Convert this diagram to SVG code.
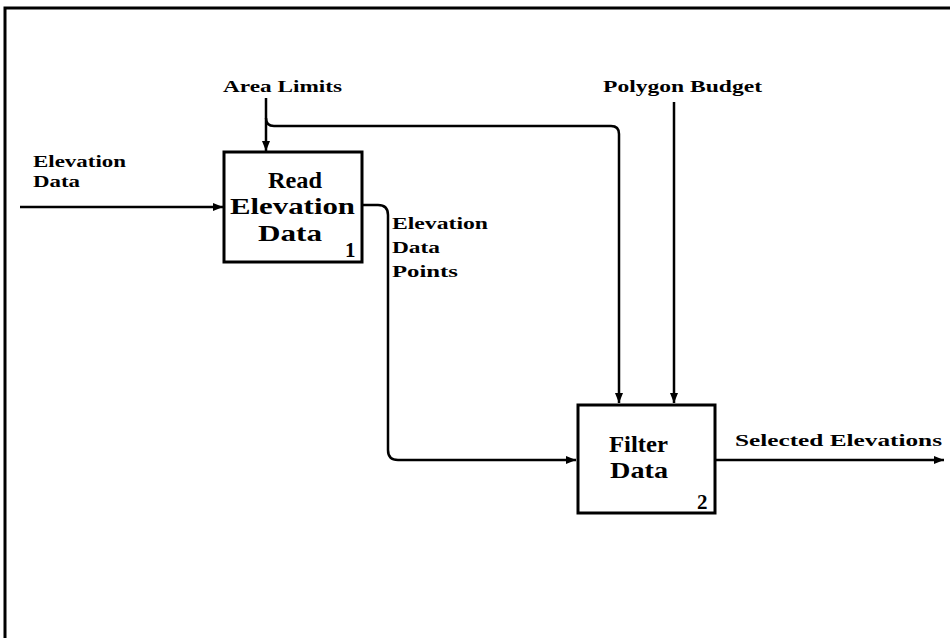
<svg xmlns="http://www.w3.org/2000/svg" width="950" height="638" viewBox="0 0 950 638">
<style>
.lbl{font-family:"Liberation Serif","DejaVu Serif",serif;font-weight:bold;font-size:17px;fill:#000}
.box{font-family:"Liberation Serif","DejaVu Serif",serif;font-size:24px;fill:#000;font-weight:bold}
.num{font-family:"Liberation Serif","DejaVu Serif",serif;font-size:21px;font-weight:bold;fill:#000}
.ln{fill:none;stroke:#000;stroke-width:2.5}
.bx{fill:#fff;stroke:#000;stroke-width:3}
</style>
<defs>
<marker id="ah" viewBox="0 0 10 10" refX="10" refY="5" markerWidth="4" markerHeight="4" orient="auto" markerUnits="strokeWidth">
<path d="M0,1 L10,5 L0,9 z" fill="#000"/>
</marker>
</defs>
<rect width="950" height="638" fill="#fff"/>
<g id="frame">
<path d="M5,638 V8 H950" fill="none" stroke="#000" stroke-width="3"/>
</g>
<g id="connectors">
<path class="ln" d="M266,98 V151" marker-end="url(#ah)"/>
<path class="ln" d="M266,118 Q266,126 274,126 H611 Q619,126 619,134 V403" marker-end="url(#ah)"/>
<path class="ln" d="M674,102 V403" marker-end="url(#ah)"/>
<path class="ln" d="M20,207 H223" marker-end="url(#ah)"/>
<path class="ln" d="M363,205 H378 Q388,205 388,215 V450 Q388,460 398,460 H576" marker-end="url(#ah)"/>
<path class="ln" d="M716,460 H944" marker-end="url(#ah)"/>
</g>
<g id="labels">
<text class="lbl" x="223" y="92" textLength="119" lengthAdjust="spacingAndGlyphs">Area Limits</text>
<text class="lbl" x="603" y="92" textLength="159" lengthAdjust="spacingAndGlyphs">Polygon Budget</text>
<text class="lbl" x="33" y="167" textLength="93" lengthAdjust="spacingAndGlyphs">Elevation</text>
<text class="lbl" x="33" y="187" textLength="47" lengthAdjust="spacingAndGlyphs">Data</text>
<text class="lbl" x="392" y="229" textLength="96" lengthAdjust="spacingAndGlyphs">Elevation</text>
<text class="lbl" x="392" y="253" textLength="48" lengthAdjust="spacingAndGlyphs">Data</text>
<text class="lbl" x="392" y="277" textLength="66" lengthAdjust="spacingAndGlyphs">Points</text>
<text class="lbl" x="735" y="446" textLength="207" lengthAdjust="spacingAndGlyphs">Selected Elevations</text>
</g>
<g id="node1">
<rect class="bx" x="224" y="152" width="138" height="110"/>
<text class="box" x="268" y="188" textLength="54" lengthAdjust="spacingAndGlyphs">Read</text>
<text class="box" x="230" y="214" textLength="125" lengthAdjust="spacingAndGlyphs">Elevation</text>
<text class="box" x="258" y="241" textLength="64" lengthAdjust="spacingAndGlyphs">Data</text>
<text class="num" x="345" y="257">1</text>
</g>
<g id="node2">
<rect class="bx" x="578" y="405" width="137" height="108"/>
<text class="box" x="609" y="452" textLength="59" lengthAdjust="spacingAndGlyphs">Filter</text>
<text class="box" x="610" y="478" textLength="58" lengthAdjust="spacingAndGlyphs">Data</text>
<text class="num" x="697" y="509">2</text>
</g>
</svg>
